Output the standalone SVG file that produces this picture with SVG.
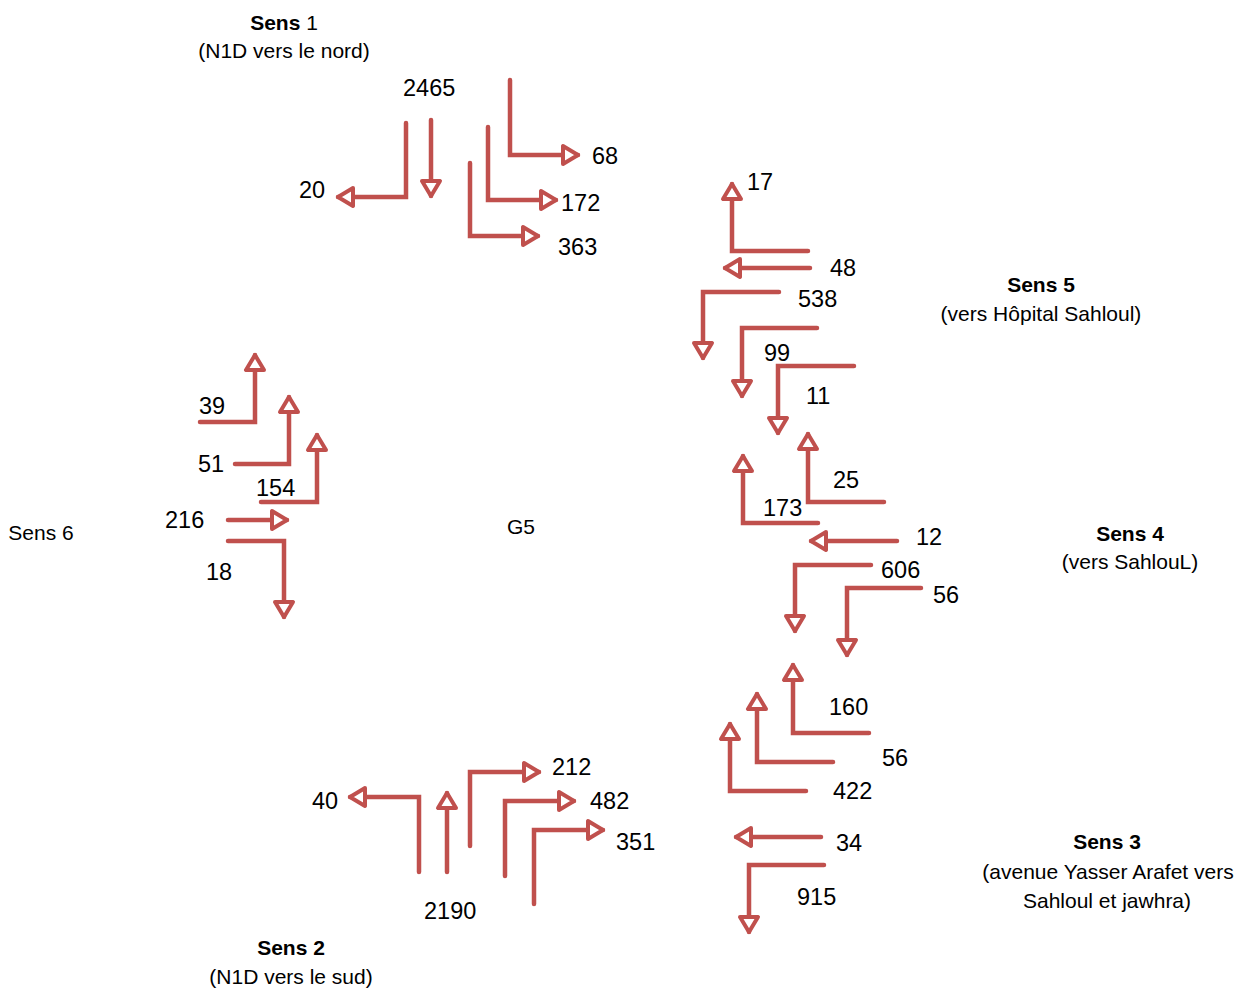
<svg xmlns="http://www.w3.org/2000/svg" width="1240" height="988" viewBox="0 0 1240 988">
<style>
.a{fill:none;stroke:#C0504D;stroke-width:4.5;stroke-linecap:round;stroke-linejoin:miter;marker-end:url(#ah)}
.n{font-family:"Liberation Sans",Arial,sans-serif;font-size:23.5px;fill:#000}
.h{font-family:"Liberation Sans",Arial,sans-serif;font-size:21px;fill:#000;text-anchor:middle}
.b{font-weight:bold}
</style>
<defs>
<marker id="ah" markerUnits="userSpaceOnUse" viewBox="-20 -14 26 28" markerWidth="26" markerHeight="28" refX="0" refY="0" orient="auto" overflow="visible">
<path d="M0,0 L-15,-9 L-15,9 Z" fill="#fff" stroke="#C0504D" stroke-width="4" stroke-linejoin="round"/>
</marker>
</defs>
<rect width="1240" height="988" fill="#fff"/>
<g id="connectors">
<!-- Sens 1 -->
<path class="a" d="M406,123 V197 H338"/>
<path class="a" d="M431,120 V196"/>
<path class="a" d="M510,80 V155 H578"/>
<path class="a" d="M488,127 V200 H556"/>
<path class="a" d="M470,163 V236 H538"/>
<!-- Sens 5 -->
<path class="a" d="M808,251 H732 V184"/>
<path class="a" d="M810,268 H725"/>
<path class="a" d="M779,292 H703 V358"/>
<path class="a" d="M817,328 H742 V396"/>
<path class="a" d="M854,366 H778 V433"/>
<!-- Sens 4 -->
<path class="a" d="M884,502 H808 V434"/>
<path class="a" d="M818,523 H743 V456"/>
<path class="a" d="M897,541 H811"/>
<path class="a" d="M871,565 H795 V631"/>
<path class="a" d="M921,588 H847 V655"/>
<!-- Sens 3 -->
<path class="a" d="M869,733 H793 V665"/>
<path class="a" d="M833,762 H757 V694"/>
<path class="a" d="M806,791 H730 V724"/>
<path class="a" d="M821,837 H736"/>
<path class="a" d="M824,865 H749 V932"/>
<!-- Sens 6 -->
<path class="a" d="M200,422 H255 V355"/>
<path class="a" d="M235,464 H289 V397"/>
<path class="a" d="M261,502 H317 V435"/>
<path class="a" d="M228,520 H287"/>
<path class="a" d="M228,541 H284 V617"/>
<!-- Sens 2 -->
<path class="a" d="M419,872 V797 H350"/>
<path class="a" d="M447,872 V793"/>
<path class="a" d="M470,846 V772 H539"/>
<path class="a" d="M505,876 V801 H574"/>
<path class="a" d="M534,904 V830 H603"/>
</g>
<g id="sens1">
<text class="h" x="284" y="30"><tspan class="b">Sens</tspan> 1</text>
<text class="h" x="284" y="58">(N1D vers le nord)</text>
<text class="n" x="403" y="96">2465</text>
<text class="n" x="299" y="198">20</text>
<text class="n" x="592" y="164">68</text>
<text class="n" x="561" y="211">172</text>
<text class="n" x="558" y="255">363</text>
</g>
<g id="sens5">
<text class="h b" x="1041" y="292">Sens 5</text>
<text class="h" x="1041" y="321">(vers Hôpital Sahloul)</text>
<text class="n" x="747" y="190">17</text>
<text class="n" x="830" y="276">48</text>
<text class="n" x="798" y="307">538</text>
<text class="n" x="764" y="361">99</text>
<text class="n" x="806" y="404">11</text>
</g>
<g id="sens4">
<text class="h b" x="1130" y="541">Sens 4</text>
<text class="h" x="1130" y="569">(vers SahlouL)</text>
<text class="n" x="833" y="488">25</text>
<text class="n" x="763" y="516">173</text>
<text class="n" x="916" y="545">12</text>
<text class="n" x="881" y="578">606</text>
<text class="n" x="933" y="603">56</text>
</g>
<g id="sens3">
<text class="h b" x="1107" y="849">Sens 3</text>
<text class="h" x="1108" y="879">(avenue Yasser Arafet vers</text>
<text class="h" x="1107" y="908">Sahloul et jawhra)</text>
<text class="n" x="829" y="715">160</text>
<text class="n" x="882" y="766">56</text>
<text class="n" x="833" y="799">422</text>
<text class="n" x="836" y="851">34</text>
<text class="n" x="797" y="905">915</text>
</g>
<g id="sens6">
<text class="h" x="41" y="540">Sens 6</text>
<text class="n" x="199" y="414">39</text>
<text class="n" x="198" y="472">51</text>
<text class="n" x="256" y="496">154</text>
<text class="n" x="165" y="528">216</text>
<text class="n" x="206" y="580">18</text>
</g>
<g id="sens2">
<text class="h b" x="291" y="955">Sens 2</text>
<text class="h" x="291" y="984">(N1D vers le sud)</text>
<text class="n" x="312" y="809">40</text>
<text class="n" x="552" y="775">212</text>
<text class="n" x="590" y="809">482</text>
<text class="n" x="616" y="850">351</text>
<text class="n" x="424" y="919">2190</text>
</g>
<g id="g5">
<text class="h" x="521" y="534">G5</text>
</g>
</svg>
